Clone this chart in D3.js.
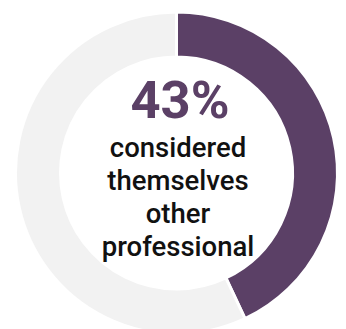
<!DOCTYPE html>
<html>
<head>
<meta charset="utf-8">
<script src="https://cdn.jsdelivr.net/npm/d3@7"></script>
<style>
  html, body { margin: 0; padding: 0; background: #fff; }
  svg { display: block; }
  text { font-family: Roboto, "Noto Sans", sans-serif; }
</style>
</head>
<body>
<svg id="chart" width="346" height="329"></svg>
<script>
// Share of respondents
const categories = ["other professional", "rest"];
const values = [43, 57];
const colors = ["#5b4066", "#f2f2f2"];
const headline = "43%";
const captionLines = ["considered", "themselves", "other", "professional"];

const width = 346, height = 329;
const cx = 176.5, cy = 173;
const outerR = 161, innerR = 116;

const svg = d3.select("#chart");
const g = svg.append("g").attr("transform", `translate(${cx},${cy})`);

const pie = d3.pie().sort(null).value(d => d)(values);
const arc = d3.arc().innerRadius(innerR).outerRadius(outerR);

g.selectAll("path.slice")
  .data(pie)
  .join("path")
  .attr("class", "slice")
  .attr("d", arc)
  .attr("fill", (d, i) => colors[i])
  .attr("stroke", "#fff")
  .attr("stroke-width", 3);

g.append("text")
  .attr("x", 3.5)
  .attr("y", 117.5 - cy)
  .attr("text-anchor", "middle")
  .attr("font-size", 52.5)
  .attr("font-weight", 700)
  .attr("fill", colors[0])
  .text(headline);

g.selectAll("text.caption")
  .data(captionLines)
  .join("text")
  .attr("class", "caption")
  .attr("x", 1.5)
  .attr("y", (d, i) => 157.3 + i * 33 - cy)
  .attr("text-anchor", "middle")
  .attr("font-size", 27.5)
  .attr("font-weight", 500)
  .attr("fill", "#111")
  .text(d => d);
</script>
</body>
</html>
